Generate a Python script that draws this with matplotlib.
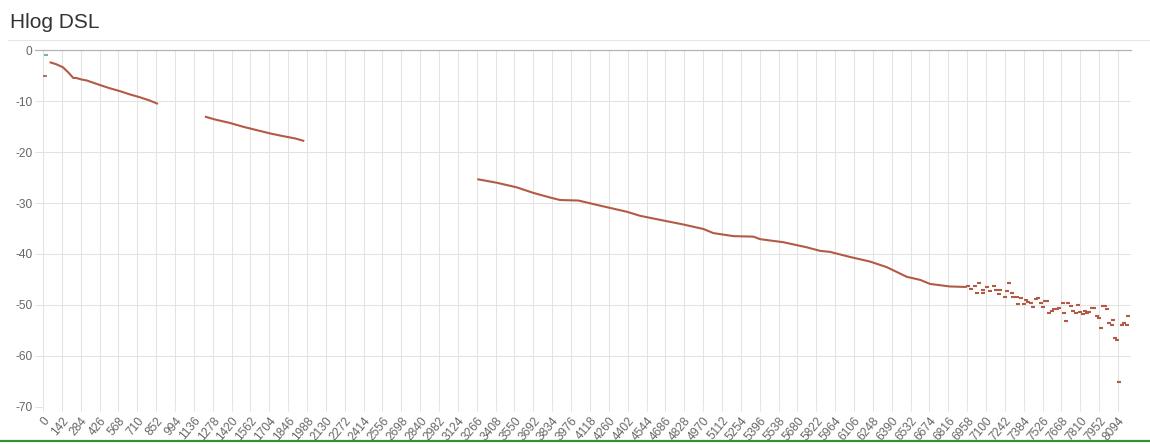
import matplotlib
matplotlib.use("Agg")
import matplotlib.pyplot as plt
from matplotlib.lines import Line2D

# ---- data (tone index, dB) ----
title = "Hlog DSL"
x_ticks = list(range(0, 8095, 142))
y_ticks = [0, -10, -20, -30, -40, -50, -60, -70]

seg1_tone = [50, 100, 150, 190, 228, 250, 290, 330, 430, 500, 580, 650, 730, 800, 866]
seg1_db = [-2.3, -2.7, -3.3, -4.3, -5.4, -5.4, -5.7, -5.9, -6.8, -7.4, -8.0, -8.6, -9.2, -9.8, -10.5]

seg2_tone = [1219, 1300, 1400, 1508, 1600, 1709, 1800, 1900, 1967]
seg2_db = [-13.0, -13.6, -14.2, -15.0, -15.6, -16.3, -16.8, -17.3, -17.8]

seg3_tone = [3270, 3416, 3566, 3692, 3817, 3893, 4031, 4194, 4395, 4495, 4646, 4819,
             4973, 5047, 5198, 5349, 5400, 5575, 5751, 5852, 5926, 6077, 6227, 6353,
             6504, 6604, 6679, 6829, 6955]
seg3_db = [-25.3, -26.0, -26.9, -28.0, -28.9, -29.4, -29.5, -30.5, -31.7, -32.5, -33.3, -34.2,
           -35.1, -35.9, -36.5, -36.6, -37.1, -37.7, -38.7, -39.4, -39.6, -40.6, -41.5, -42.6,
           -44.5, -45.1, -45.9, -46.4, -46.5]

scatter_tone = [6967, 6987, 7017, 7050, 7035, 7075, 7080, 7105, 7130, 7160, 7175, 7196,
                7206, 7243, 7261, 7276, 7293, 7306, 7331, 7344, 7361, 7386, 7401, 7419,
                7436, 7457, 7477, 7494, 7512, 7527, 7544, 7557, 7577, 7597, 7612, 7632,
                7652, 7683, 7688, 7703, 7720, 7738, 7758, 7778, 7795, 7808, 7828, 7846,
                7858, 7873, 7896, 7916, 7933, 7954, 7964, 7979, 7996, 8014, 8029, 8046,
                8059, 8072, 8089, 8104, 8122, 8139, 8159, 8167]
scatter_db = [-46.3, -46.8, -46.4, -45.7, -47.6, -47.0, -47.7, -46.6, -47.2, -46.3, -47.1, -47.9,
              -47.0, -48.4, -47.2, -45.7, -47.7, -48.5, -48.5, -49.8, -48.6, -49.8, -49.1, -49.5,
              -49.7, -50.5, -48.9, -48.7, -49.6, -50.4, -49.2, -49.3, -51.7, -51.2, -50.9, -50.9,
              -50.6, -49.7, -51.7, -53.2, -49.6, -50.2, -51.2, -51.7, -50.1, -51.4, -51.8, -51.2,
              -51.7, -51.4, -50.6, -50.6, -52.3, -52.5, -54.5, -50.2, -50.2, -50.8, -53.5, -54.0,
              -53.0, -56.6, -56.9, -65.1, -54.0, -53.5, -54.0, -52.2]

early_tone = [20, 15]
early_db = [-0.9, -5.0]

# ---- style ----
W, H, DPI = 1150, 444, 100
line_color = "#b35a45"
grid_color = "#e3e3e3"
zero_color = "#b4b4b4"
text_color = "#666666"

plt.rcParams['font.family'] = ['Liberation Sans', 'DejaVu Sans']

fig = plt.figure(figsize=(W / DPI, H / DPI), dpi=DPI, facecolor="white")
left, right, top, bottom = 43, 1131, 50.5, 406.5
ax = fig.add_axes([left / W, 1 - bottom / H, (right - left) / W, (bottom - top) / H])

ax.set_xlim(0, 8192)
ax.set_ylim(-70, 0)

ax.set_xticks(x_ticks)
ax.set_xticklabels([str(t) for t in x_ticks], rotation=50, ha="right",
                   rotation_mode="anchor", fontsize=8.6, color=text_color)
ax.set_yticks(y_ticks)
ax.set_yticklabels([str(t) for t in y_ticks], fontsize=8.6, color=text_color)

ax.tick_params(axis="y", length=5.8, width=0.75, color=grid_color, pad=2)
ax.tick_params(axis="x", length=3, width=0.75, color=grid_color, pad=3)

ax.grid(True, color=grid_color, linewidth=0.75)
ax.set_axisbelow(True)
for s in ax.spines.values():
    s.set_visible(False)

# zero line (darker)
ax.axhline(0, color=zero_color, linewidth=0.9, zorder=1, clip_on=False)
fig.add_artist(Line2D([35 / W, left / W], [1 - top / H, 1 - top / H],
                      color=zero_color, linewidth=0.9))

# data
for xs, ys in [(seg1_tone, seg1_db), (seg2_tone, seg2_db), (seg3_tone, seg3_db)]:
    ax.plot(xs, ys, color=line_color, linewidth=1.5, solid_capstyle="butt", zorder=3)

ax.plot(scatter_tone, scatter_db, linestyle="none", marker="_", markersize=2.9,
        markeredgewidth=1.5, color=line_color, zorder=3)
ax.plot(early_tone[:1], early_db[:1], linestyle="none", marker="_", markersize=2.9,
        markeredgewidth=1.5, color="#7fb58a", zorder=3)
ax.plot(early_tone[1:], early_db[1:], linestyle="none", marker="_", markersize=2.9,
        markeredgewidth=1.5, color="#a07a6a", zorder=3)

# title and decorations
fig.text(10 / W, 1 - 27.5 / H, title, fontsize=15, color="#333333", ha="left", va="baseline")
fig.add_artist(Line2D([8 / W, 1.0], [1 - 40.5 / H, 1 - 40.5 / H], color="#e6e6e6", linewidth=0.8))
fig.add_artist(Line2D([0, 1.0], [1 - 441 / H, 1 - 441 / H], color="#3c8c3c", linewidth=1.6))

fig.savefig("out.png", dpi=DPI, facecolor="white")
